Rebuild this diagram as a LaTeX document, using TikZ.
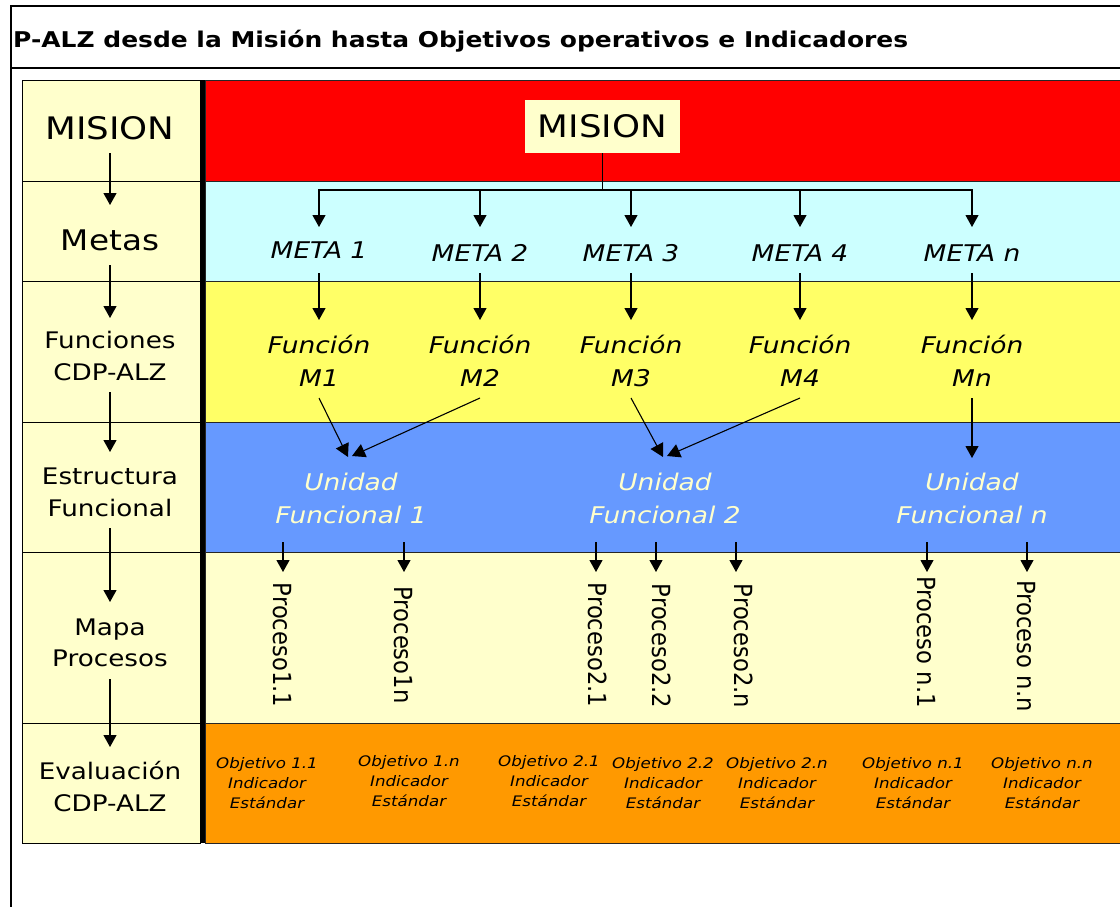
\documentclass[tikz,border=0pt]{standalone}
\usepackage{fontspec}
\usepackage{graphicx}
\setmainfont{DejaVu Sans}[FakeStretch=1.15]
\newfontfamily\procfont{DejaVu Sans}
\usetikzlibrary{arrows.meta}
\definecolor{lyel}{HTML}{FFFFCC}
\definecolor{cyanrow}{HTML}{CCFFFF}
\definecolor{yelrow}{HTML}{FFFF66}
\definecolor{bluerow}{HTML}{6699FF}
\definecolor{orangerow}{HTML}{FF9900}
\definecolor{redrow}{HTML}{FF0000}
\newcommand\prtxt[1]{\scalebox{1}[1.1]{#1}}
\begin{document}
\begin{tikzpicture}[x=1pt,y=-1pt,
  arr/.style={draw=black, line width=1.1pt, -{Triangle[width=13pt,length=12pt]}},
  darr/.style={draw=black, line width=1.1pt, -{Triangle[width=14pt,length=13pt]}},
  cellL/.style={fill=lyel, draw=black, line width=0.8pt},
  cellR/.style={draw=black!85, line width=0.8pt},
  lbl/.style={inner sep=0pt, align=center, font=\fontsize{22.8}{31.5}\selectfont},
  bigl/.style={inner sep=0pt, font=\fontsize{31}{37}\selectfont},
  medl/.style={inner sep=0pt, font=\fontsize{28.4}{34}\selectfont},
  ital/.style={inner sep=0pt, align=center, font=\fontsize{23}{33}\selectfont\itshape},
  unid/.style={ital, text=lyel},
  proc/.style={inner sep=0pt, rotate=-90, font=\procfont\fontsize{22.7}{27}\selectfont},
  obj/.style={inner sep=0pt, align=center, font=\fontsize{14.5}{20}\selectfont\itshape},
]
\useasboundingbox (0,0) rectangle (1120,906);
\fill[white] (0,0) rectangle (1120,906);

% frame and title
\draw[line width=2pt] (11,930) -- (11,6) -- (1130,6);
\draw[line width=2pt] (11,68) -- (1130,68);
\node[anchor=base west, inner sep=0pt, font=\bfseries\fontsize{21.7}{26}\selectfont] (title) at (13,47) {P-ALZ desde la Misión hasta Objetivos operativos e Indicadores};

% left column cells
\foreach \a/\b in {80/181,181/281,281/422,422/552,552/723,723/843}
  \draw[cellL] (22,\a) rectangle (200,\b);

% right rows
\draw[cellR, fill=redrow]    (205,80)  rectangle (1130,181);
\draw[cellR, fill=cyanrow]   (205,181) rectangle (1130,281);
\draw[cellR, fill=yelrow]    (205,281) rectangle (1130,422);
\draw[cellR, fill=bluerow]   (205,422) rectangle (1130,552);
\draw[cellR, fill=lyel]      (205,552) rectangle (1130,723);
\draw[cellR, fill=orangerow] (205,723) rectangle (1130,843);
\fill[black] (200,80) rectangle (205,843);

% left labels
\node[bigl] (lmision) at (110,128) {MISION};
\node[medl] (lmetas) at (110,240) {Metas};
\node[lbl] (lfunc) at (110,356) {Funciones\\CDP-ALZ};
\node[lbl] (lestr) at (110,492.5) {Estructura\\Funcional};
\node[lbl] (lmapa) at (110,643) {Mapa\\Procesos};
\node[lbl] (leval) at (110,786.5) {Evaluación\\CDP-ALZ};

\draw[arr] ([yshift=-25pt]lmision.center) -- ([yshift=35pt]lmetas.center);
\draw[arr] ([yshift=-25pt]lmetas.center) -- ([yshift=38pt]lfunc.center);
\draw[arr] ([yshift=-36pt]lfunc.center) -- ([yshift=40.5pt]lestr.center);
\draw[arr] ([yshift=-35.5pt]lestr.center) -- ([yshift=41pt]lmapa.center);
\draw[arr] ([yshift=-36pt]lmapa.center) -- ([yshift=39.5pt]leval.center);

% mission box
\node[bigl, fill=lyel, minimum width=155pt, minimum height=53pt] (mbox) at (602.5,126.5) {MISION};
\coordinate (br) at (602.5,190);
\draw[line width=1.1pt] (mbox.south) -- (br);

% metas
\node[ital] (meta1) at (319,250) {META 1};
\node[ital] (meta2) at (480,253) {META 2};
\node[ital] (meta3) at (631,253) {META 3};
\node[ital] (meta4) at (800,253) {META 4};
\node[ital] (metan) at (972,253) {META n};

\draw[arr] (br) -| ([yshift=23pt]meta1.center);
\draw[arr] (br) -| ([yshift=26pt]meta2.center);
\draw[arr] (br) -| ([yshift=26pt]meta3.center);
\draw[arr] (br) -| ([yshift=26pt]meta4.center);
\draw[arr] (br) -| ([yshift=26pt]metan.center);

% funciones
\node[ital] (fun1) at (319,361) {Función\\M1};
\node[ital] (fun2) at (480,361) {Función\\M2};
\node[ital] (fun3) at (631,361) {Función\\M3};
\node[ital] (fun4) at (800,361) {Función\\M4};
\node[ital] (funn) at (972,361) {Función\\Mn};

\draw[arr] ([yshift=-23pt]meta1.center) -- ([yshift=41pt]fun1.center);
\draw[arr] ([yshift=-20pt]meta2.center) -- ([yshift=41pt]fun2.center);
\draw[arr] ([yshift=-20pt]meta3.center) -- ([yshift=41pt]fun3.center);
\draw[arr] ([yshift=-20pt]meta4.center) -- ([yshift=41pt]fun4.center);
\draw[arr] ([yshift=-20pt]metan.center) -- ([yshift=41pt]funn.center);

% unidades
\node[unid] (uf1) at (351,498.5) {Unidad\\Funcional 1};
\node[unid] (uf2) at (665,498.5) {Unidad\\Funcional 2};
\node[unid] (ufn) at (972,498.5) {Unidad\\Funcional n};

\draw[darr] ([yshift=-37pt]fun1.center) -- ([xshift=-3pt,yshift=41.5pt]uf1.center);
\draw[darr] ([yshift=-37pt]fun2.center) -- ([xshift=1pt,yshift=42.5pt]uf1.center);
\draw[darr] ([yshift=-37pt]fun3.center) -- ([xshift=-2pt,yshift=41.5pt]uf2.center);
\draw[darr] ([yshift=-37pt]fun4.center) -- ([xshift=2pt,yshift=42.5pt]uf2.center);
\draw[arr] ([yshift=-37pt]funn.center) -- ([yshift=40.5pt]ufn.center);

% procesos
\node[proc] (p11) at (282,645) {\prtxt{Proceso1.1}};
\node[proc] (p1n) at (403,645) {\prtxt{Proceso1n}};
\node[proc] (p21) at (598,645) {\prtxt{Proceso2.1}};
\node[proc] (p22) at (662,646) {\prtxt{Proceso2.2}};
\node[proc] (p2n) at (744,646) {\prtxt{Proceso2.n}};
\node[proc] (pn1) at (926,642) {\prtxt{Proceso n.1}};
\node[proc] (pnn) at (1026,646) {\prtxt{Proceso n.n}};

\draw[arr] ([xshift=1pt,yshift=103pt]p11.center) -- ([xshift=1pt,yshift=73pt]p11.center);
\draw[arr] ([xshift=1pt,yshift=103pt]p1n.center) -- ([xshift=1pt,yshift=73pt]p1n.center);
\draw[arr] ([xshift=-2pt,yshift=103pt]p21.center) -- ([xshift=-2pt,yshift=73pt]p21.center);
\draw[arr] ([xshift=-6pt,yshift=104pt]p22.center) -- ([xshift=-6pt,yshift=74pt]p22.center);
\draw[arr] ([xshift=-8pt,yshift=104pt]p2n.center) -- ([xshift=-8pt,yshift=74pt]p2n.center);
\draw[arr] ([xshift=1pt,yshift=100pt]pn1.center) -- ([xshift=1pt,yshift=70pt]pn1.center);
\draw[arr] ([xshift=1pt,yshift=104pt]pnn.center) -- ([xshift=1pt,yshift=74pt]pnn.center);

% objetivos
\node[obj] (o11) at (267,783) {Objetivo 1.1\\Indicador\\Estándar};
\node[obj] (o1n) at (409,781) {Objetivo 1.n\\Indicador\\Estándar};
\node[obj] (o21) at (549,781) {Objetivo 2.1\\Indicador\\Estándar};
\node[obj] (o22) at (663,783) {Objetivo 2.2\\Indicador\\Estándar};
\node[obj] (o2n) at (777,783) {Objetivo 2.n\\Indicador\\Estándar};
\node[obj] (on1) at (913,783) {Objetivo n.1\\Indicador\\Estándar};
\node[obj] (onn) at (1042,783) {Objetivo n.n\\Indicador\\Estándar};
\end{tikzpicture}
\end{document}
